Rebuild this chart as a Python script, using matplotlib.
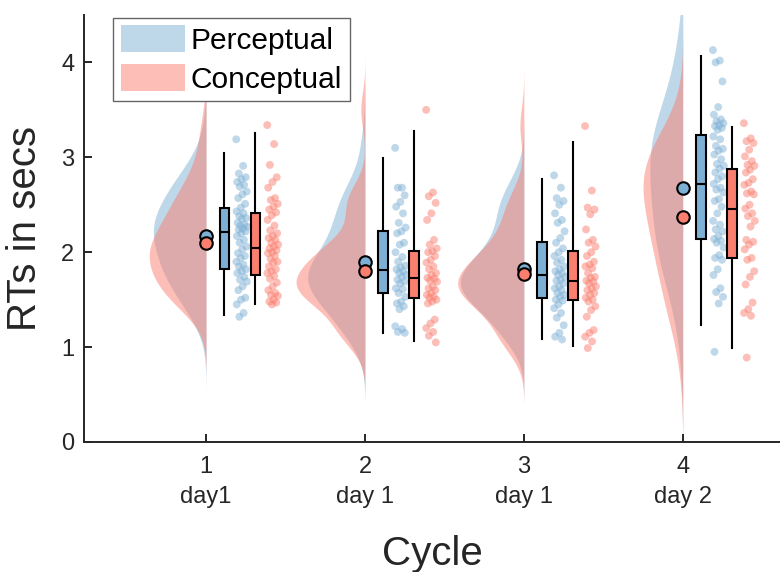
import numpy as np
import matplotlib.pyplot as plt
from matplotlib.patches import Patch

plt.rcParams['font.family'] = ['Liberation Sans', 'DejaVu Sans']

# RTs (secs), per cycle
perceptual = [
    [3.19, 2.91, 2.83, 2.79, 2.77, 2.74, 2.71, 2.69, 2.64, 2.61, 2.57, 2.51, 2.47, 2.43,
     2.41, 2.38, 2.36, 2.35, 2.31, 2.29, 2.28, 2.27, 2.25, 2.24, 2.22, 2.20, 2.17, 2.13,
     2.10, 2.06, 2.03, 1.99, 1.96, 1.94, 1.90, 1.87, 1.85, 1.82, 1.80, 1.78, 1.74, 1.71,
     1.69, 1.64, 1.60, 1.52, 1.50, 1.45, 1.36, 1.32],
    [3.10, 2.68, 2.68, 2.60, 2.53, 2.48, 2.41, 2.31, 2.26, 2.22, 2.20, 2.10, 2.08, 2.00,
     1.95, 1.90, 1.86, 1.84, 1.82, 1.80, 1.78, 1.76, 1.74, 1.71, 1.69, 1.67, 1.62, 1.61,
     1.57, 1.53, 1.48, 1.46, 1.43, 1.40, 1.22, 1.19, 1.16, 1.15],
    [2.81, 2.68, 2.57, 2.54, 2.50, 2.41, 2.34, 2.31, 2.22, 2.15, 2.10, 2.04, 2.00, 1.96,
     1.92, 1.89, 1.85, 1.82, 1.80, 1.78, 1.76, 1.74, 1.71, 1.70, 1.67, 1.64, 1.62, 1.60,
     1.57, 1.55, 1.53, 1.50, 1.49, 1.45, 1.41, 1.36, 1.31, 1.23, 1.15, 1.11, 1.08],
    [4.13, 4.02, 4.00, 3.80, 3.53, 3.45, 3.40, 3.38, 3.36, 3.34, 3.33, 3.31, 3.29, 3.22,
     3.19, 3.12, 3.09, 3.07, 3.03, 2.98, 2.93, 2.91, 2.88, 2.84, 2.80, 2.77, 2.72, 2.68,
     2.66, 2.63, 2.56, 2.54, 2.48, 2.41, 2.33, 2.29, 2.24, 2.22, 2.17, 2.14, 2.12, 2.10,
     2.05, 1.97, 1.94, 1.92, 1.82, 1.76, 1.62, 1.58, 1.53, 1.46, 0.95],
]
conceptual = [
    [3.34, 3.14, 2.92, 2.79, 2.74, 2.68, 2.57, 2.55, 2.51, 2.48, 2.45, 2.42, 2.39, 2.34,
     2.28, 2.23, 2.20, 2.17, 2.15, 2.13, 2.10, 2.08, 2.06, 2.04, 2.02, 2.00, 1.99, 1.96,
     1.93, 1.90, 1.89, 1.85, 1.82, 1.80, 1.78, 1.75, 1.72, 1.68, 1.64, 1.60, 1.57, 1.55,
     1.54, 1.50, 1.48, 1.47, 1.45],
    [3.50, 2.63, 2.59, 2.52, 2.41, 2.34, 2.13, 2.08, 2.04, 2.01, 2.00, 1.96, 1.92, 1.89,
     1.85, 1.82, 1.78, 1.76, 1.73, 1.72, 1.70, 1.69, 1.64, 1.62, 1.60, 1.57, 1.55, 1.53,
     1.52, 1.50, 1.48, 1.46, 1.29, 1.25, 1.20, 1.16, 1.12, 1.05],
    [3.33, 2.65, 2.47, 2.45, 2.40, 2.24, 2.13, 2.10, 2.06, 2.00, 1.96, 1.90, 1.87, 1.85,
     1.83, 1.78, 1.74, 1.73, 1.70, 1.69, 1.67, 1.64, 1.62, 1.60, 1.57, 1.55, 1.52, 1.50,
     1.48, 1.43, 1.39, 1.32, 1.18, 1.15, 1.11, 1.06, 0.99],
    [3.36, 3.20, 3.17, 3.15, 3.08, 3.01, 2.96, 2.92, 2.91, 2.87, 2.84, 2.77, 2.73, 2.71,
     2.64, 2.62, 2.61, 2.50, 2.46, 2.41, 2.38, 2.33, 2.27, 2.13, 2.11, 2.08, 2.03, 1.94,
     1.92, 1.80, 1.74, 1.66, 1.47, 1.40, 1.36, 1.33, 0.89],
]
cycles = [1, 2, 3, 4]
tick_labels = ['1\nday1', '2\nday 1', '3\nday 1', '4\nday 2']
group_names = ['Perceptual', 'Conceptual']

blue = '#7EB0D5'
red = '#FA7F6F'
txt = '#262626'


def kde(vals):
    # ksdensity-like gaussian kernel with default bandwidth
    v = np.asarray(vals)
    sig = np.median(np.abs(v - np.median(v))) / 0.6745
    h = sig * (4 / (3 * len(v))) ** 0.2
    grid = np.linspace(v.min() - 3 * h, v.max() + 3 * h, 100)
    d = np.exp(-0.5 * ((grid[:, None] - v[None, :]) / h) ** 2).sum(1)
    return grid, d / (len(v) * h * np.sqrt(2 * np.pi))


def box_stats(vals):
    lo, q1, med, q3, hi = np.percentile(vals, [2, 25, 50, 75, 98], method='hazen')
    return dict(med=med, q1=q1, q3=q3, whislo=lo, whishi=hi, fliers=[])


fig = plt.figure(figsize=(7.8, 5.72), dpi=100)
ax = fig.add_axes([84 / 780, 130 / 572, 696 / 780, 427 / 572])

scale = 0.45
for x, p, c in zip(cycles, perceptual, conceptual):
    for vals, col in [(p, blue), (c, red)]:
        g, d = kde(vals)
        ax.fill_betweenx(g, x - d * scale, x, color=col, alpha=0.5, lw=0, zorder=1)

for x, p, c in zip(cycles, perceptual, conceptual):
    for vals, col, off in [(p, blue, 0.115), (c, red, 0.31)]:
        bp = ax.bxp([box_stats(vals)], positions=[x + off], widths=0.06,
                    showcaps=False, showfliers=False, patch_artist=True,
                    manage_ticks=False)
        for b in bp['boxes']:
            b.set(facecolor=col, edgecolor='k', linewidth=1.5, zorder=3)
        for w in bp['whiskers']:
            w.set(color='k', linewidth=1.5, zorder=2)
        for m in bp['medians']:
            m.set(color='k', linewidth=1.5, zorder=4)
        n = len(vals)
        jit = ((np.arange(n) * 0.618034) % 1 - 0.5) * 0.07
        ax.scatter(x + off + 0.11 + jit, vals, s=32, color=col, alpha=0.5,
                   edgecolors='none', zorder=2)
    ax.plot(x, np.mean(p), 'o', ms=9, mfc=blue, mec='k', mew=1.5, zorder=5)
    ax.plot(x, np.mean(c), 'o', ms=9, mfc=red, mec='k', mew=1.5, zorder=6)

ax.set_xlim(0.232, 4.612)
ax.set_ylim(0, 4.5)
ax.set_xticks(cycles)
ax.set_xticklabels(tick_labels, linespacing=1.45)
ax.set_yticks([0, 1, 2, 3, 4])
ax.tick_params(direction='in', length=6, width=1.4, labelsize=17, colors=txt)
ax.tick_params(axis='x', pad=10)
ax.tick_params(axis='y', pad=7)
for s in ['top', 'right']:
    ax.spines[s].set_visible(False)
for s in ['left', 'bottom']:
    ax.spines[s].set_linewidth(1.4)
    ax.spines[s].set_color(txt)

ax.set_ylabel('RTs in secs', fontsize=29, color=txt, labelpad=12)
ax.set_xlabel('Cycle', fontsize=29, color=txt, labelpad=20)

handles = [Patch(facecolor=blue, alpha=0.5, lw=0), Patch(facecolor=red, alpha=0.5, lw=0)]
leg = ax.legend(handles, group_names, loc='upper left', bbox_to_anchor=(0.042, 0.993),
                borderaxespad=0, fontsize=21.5, fancybox=False, framealpha=1,
                edgecolor='#666666', handlelength=2.15, handleheight=1.0,
                labelspacing=0.3, borderpad=0.25, handletextpad=0.2)
leg.get_frame().set_linewidth(1.0)

fig.savefig('out.png', dpi=100)
